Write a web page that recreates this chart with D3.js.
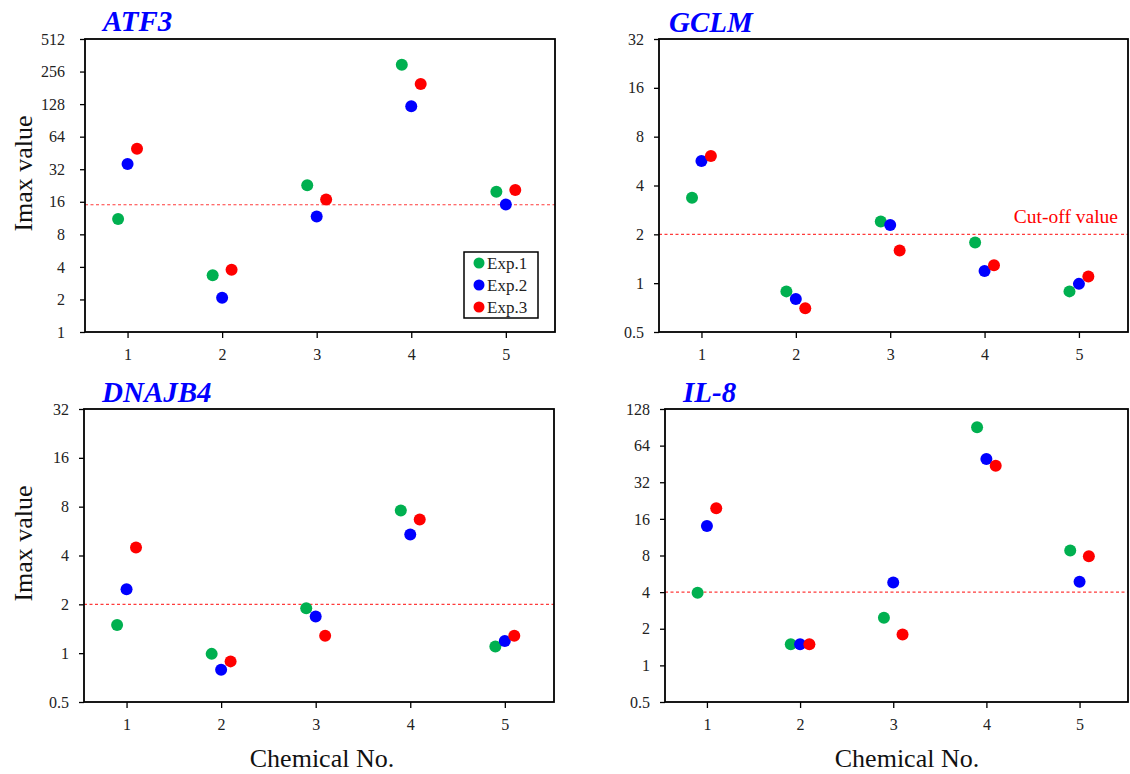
<!DOCTYPE html>
<html><head><meta charset="utf-8">
<script src="https://cdn.jsdelivr.net/npm/d3@7"></script>
<style>body{margin:0;background:#fff}svg{display:block}</style>
</head><body>
<svg id="chart" width="1130" height="774"></svg>
<script>
// ---- data ----
const chemicals = [1, 2, 3, 4, 5];
const seriesNames = ["Exp.1", "Exp.2", "Exp.3"];
const seriesColors = ["#00b050", "#0000ff", "#ff0000"];
const genes = ["ATF3", "GCLM", "DNAJB4", "IL-8"];

const atf3Exp1 = [11.1, 3.34, 22.8, 296, 19.8];
const atf3Exp2 = [35.8, 2.07, 11.7, 122, 15.1];
const atf3Exp3 = [49.6, 3.76, 16.8, 196, 20.6];

const gclmExp1 = [3.36, 0.89, 2.40, 1.78, 0.89];
const gclmExp2 = [5.66, 0.80, 2.28, 1.19, 0.99];
const gclmExp3 = [6.08, 0.70, 1.59, 1.29, 1.10];

const dnajb4Exp1 = [1.49, 0.99, 1.89, 7.58, 1.10];
const dnajb4Exp2 = [2.48, 0.79, 1.68, 5.39, 1.19];
const dnajb4Exp3 = [4.48, 0.89, 1.28, 6.67, 1.28];

const il8Exp1 = [3.95, 1.49, 2.46, 90.5, 8.80];
const il8Exp2 = [14.0, 1.49, 4.80, 49.6, 4.86];
const il8Exp3 = [19.6, 1.49, 1.79, 43.7, 7.90];

const atf3Ticks = [1, 2, 4, 8, 16, 32, 64, 128, 256, 512];
const gclmTicks = [0.5, 1, 2, 4, 8, 16, 32];
const dnajb4Ticks = [0.5, 1, 2, 4, 8, 16, 32];
const il8Ticks = [0.5, 1, 2, 4, 8, 16, 32, 64, 128];

const cutoffValues = [15, 2, 2, 4];
const xLabel = "Chemical No.";
const yLabel = "Imax value";
const cutoffLabel = "Cut-off value";

// ---- layout ----
const panels = [
  {gene: genes[0], series: [atf3Exp1, atf3Exp2, atf3Exp3], ticks: atf3Ticks, cutoff: cutoffValues[0],
   box: {l: 85, r: 555, t: 39, b: 332}, title: {x: 103, y: 31}, ylab: true, xlab: false, legend: true, pad: 15},
  {gene: genes[1], series: [gclmExp1, gclmExp2, gclmExp3], ticks: gclmTicks, cutoff: cutoffValues[1],
   box: {l: 659, r: 1128, t: 39, b: 332}, title: {x: 669, y: 32}, ylab: false, xlab: false, cutText: true, pad: 10},
  {gene: genes[2], series: [dnajb4Exp1, dnajb4Exp2, dnajb4Exp3], ticks: dnajb4Ticks, cutoff: cutoffValues[2],
   box: {l: 84, r: 554, t: 409, b: 702}, title: {x: 102, y: 402}, ylab: true, xlab: true, pad: 10},
  {gene: genes[3], series: [il8Exp1, il8Exp2, il8Exp3], ticks: il8Ticks, cutoff: cutoffValues[3],
   box: {l: 665, r: 1128, t: 409, b: 702}, title: {x: 683, y: 402}, ylab: false, xlab: true, xlabX: 907, pad: 10}
];
const offsets = [-0.1, 0, 0.1];
const serif = "'Liberation Serif','Times New Roman',serif";

const svg = d3.select("#chart");

panels.forEach(p => {
  const b = p.box;
  const x = d3.scaleLinear().domain([0.55, 5.52]).range([b.l, b.r]);
  const y = d3.scaleLog().base(2).domain([p.ticks[0], p.ticks[p.ticks.length - 1]]).range([b.b, b.t]);
  const g = svg.append("g");

  // cutoff line
  g.append("line")
    .attr("x1", b.l).attr("x2", b.r)
    .attr("y1", y(p.cutoff)).attr("y2", y(p.cutoff))
    .attr("stroke", "#ff3b3b").attr("stroke-width", 1.1)
    .attr("stroke-dasharray", "3,2.5");

  // axes
  const ya = g.append("g").attr("transform", `translate(${b.l},0)`)
    .call(d3.axisLeft(y).tickValues(p.ticks).tickFormat(d => String(d)).tickSize(5).tickPadding(p.pad).tickSizeOuter(0));
  const xa = g.append("g").attr("transform", `translate(0,${b.b})`)
    .call(d3.axisBottom(x).tickValues(chemicals).tickFormat(d => String(d)).tickSize(6).tickPadding(11).tickSizeOuter(0));
  [ya, xa].forEach(a => {
    a.select(".domain").remove();
    a.selectAll(".tick line").attr("stroke", "#000").attr("stroke-width", 1.3);
    a.selectAll(".tick text").attr("font-family", serif).attr("font-size", 16).attr("fill", "#222");
  });

  // box
  g.append("rect").attr("x", b.l).attr("y", b.t).attr("width", b.r - b.l).attr("height", b.b - b.t)
    .attr("fill", "none").attr("stroke", "#000").attr("stroke-width", 1.8);

  // points
  p.series.forEach((vals, si) => {
    g.selectAll(null).data(vals).enter().append("circle")
      .attr("cx", (d, i) => x(chemicals[i] + offsets[si]))
      .attr("cy", d => y(d))
      .attr("r", 6)
      .attr("fill", seriesColors[si]);
  });

  // title
  g.append("text").attr("x", p.title.x).attr("y", p.title.y)
    .attr("font-family", serif).attr("font-size", 29).attr("font-weight", "bold").attr("font-style", "italic")
    .attr("fill", "#0000ff").text(p.gene);

  if (p.ylab) {
    g.append("text")
      .attr("transform", `translate(32,${(b.t + b.b) / 2 - 12}) rotate(-90)`)
      .attr("text-anchor", "middle").attr("font-family", serif).attr("font-size", 26).attr("fill", "#111")
      .text(yLabel);
  }
  if (p.xlab) {
    g.append("text")
      .attr("x", p.xlabX || (b.l + b.r) / 2 + 3).attr("y", 767)
      .attr("text-anchor", "middle").attr("font-family", serif).attr("font-size", 26).attr("fill", "#111")
      .text(xLabel);
  }
  if (p.cutText) {
    g.append("text").attr("x", 1118).attr("y", y(p.cutoff) - 11)
      .attr("text-anchor", "end").attr("font-family", serif).attr("font-size", 19.5).attr("fill", "#ff0000")
      .text(cutoffLabel);
  }
  if (p.legend) {
    const lg = g.append("g");
    lg.append("rect").attr("x", 464).attr("y", 252).attr("width", 74).attr("height", 66)
      .attr("fill", "#fff").attr("stroke", "#000").attr("stroke-width", 1.5);
    seriesNames.forEach((n, i) => {
      const cy = 263 + i * 22;
      lg.append("circle").attr("cx", 479).attr("cy", cy).attr("r", 5.5).attr("fill", seriesColors[i]);
      lg.append("text").attr("x", 487).attr("y", cy + 6).attr("font-family", serif).attr("font-size", 17)
        .attr("fill", "#222").text(n);
    });
  }
});
</script>
</body></html>
